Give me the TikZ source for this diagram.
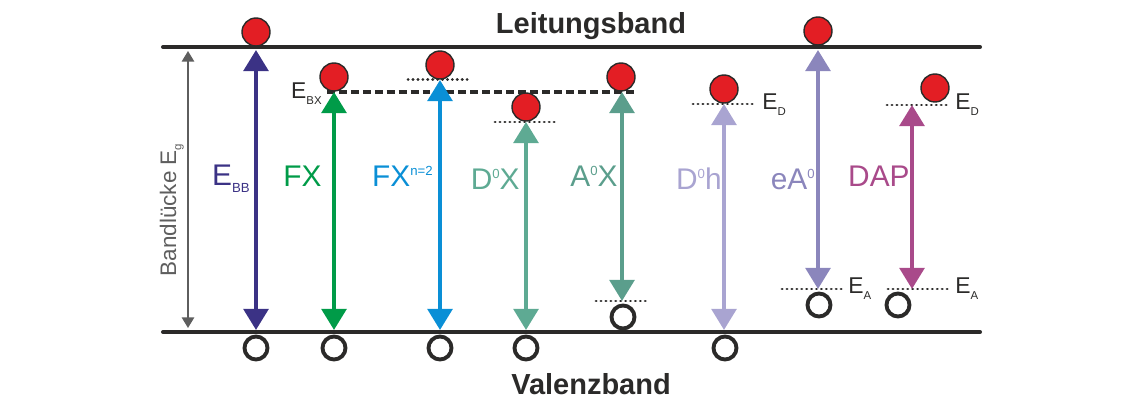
\documentclass[tikz,border=0pt]{standalone}
\usepackage{fontspec}
\setmainfont{Liberation Sans}
\usetikzlibrary{arrows.meta}
\definecolor{bandblack}{HTML}{2B2A29}
\definecolor{elecred}{HTML}{E31E24}
\definecolor{gapgray}{HTML}{5E5E5E}
\definecolor{cBB}{HTML}{3B3285}
\definecolor{cFX}{HTML}{009B48}
\definecolor{cFXn}{HTML}{0A8FD6}
\definecolor{cDX}{HTML}{5EAA93}
\definecolor{cAX}{HTML}{5B9E8C}
\definecolor{cDh}{HTML}{A9A4D1}
\definecolor{cEA}{HTML}{8B86BC}
\definecolor{cDAP}{HTML}{A94A8A}
\newcommand{\lowidx}[1]{\raisebox{-3.5pt}{\fontsize{7.5}{8}\selectfont #1}}
\newcommand{\highidx}[1]{\raisebox{6.5pt}{\fontsize{7.5}{8}\selectfont #1}}
\newcommand{\lvlidx}[1]{\raisebox{-3pt}{\fontsize{6.5}{7}\selectfont #1}}

\begin{document}
\begin{tikzpicture}[x=0.02cm,y=-0.02cm,
  band/.style={line width=2.3pt,bandblack,line cap=round},
  bandtxt/.style={anchor=base,inner sep=0pt,text=bandblack,font=\fontsize{16.5}{18}\selectfont\bfseries},
  elec/.style={circle,fill=elecred,draw=bandblack,line width=0.8pt,minimum size=0.56cm,inner sep=0pt},
  hole/.style={circle,draw=bandblack,line width=2.2pt,minimum size=0.46cm,inner sep=0pt},
  trans/.style={line width=2.3pt,{Triangle[length=12pt,width=14pt]}-{Triangle[length=12pt,width=14pt]}},
  gaparrow/.style={line width=0.9pt,gapgray,{Triangle[length=6pt,width=7pt]}-{Triangle[length=6pt,width=7pt]}},
  exciton/.style={line width=1.9pt,bandblack,dash pattern=on 4.5pt off 2.3pt},
  level/.style={line width=1.7pt,bandblack,line cap=round,dash pattern=on 0.1pt off 2.7pt},
  lbl/.style={anchor=base east,inner sep=0pt,font=\fontsize{17}{20}\selectfont},
  lvl/.style={inner sep=0pt,text=bandblack,font=\fontsize{13}{15}\selectfont}]
  \useasboundingbox (0,0) rectangle (1134,411);

  % Baender
  \coordinate (cbL) at (163,47); \coordinate (cbR) at (980,47);
  \coordinate (vbL) at (163,332); \coordinate (vbR) at (980,332);
  \draw[band] (cbL) -- (cbR);
  \draw[band] (vbL) -- (vbR);
  \node[bandtxt] (cb) at (591,34) {Leitungsband};
  \node[bandtxt] (vb) at (591,395) {Valenzband};

  % Bandluecke
  \coordinate (gapT) at (188,51); \coordinate (gapB) at (188,328);
  \draw[gaparrow] (gapT) -- (gapB);
  \node[rotate=90,anchor=base,inner sep=0pt,text=gapgray,font=\fontsize{12.8}{14}\selectfont] (eg) at (176,210) {Bandlücke E\lvlidx{g}};

  % Niveaus
  \coordinate (bxL) at (327,92); \coordinate (bxR) at (637,92);
  \draw[exciton] (bxL) -- (bxR);
  \node[lvl,anchor=base east] (ebx) at (322,99) {E\lvlidx{BX}};
  \coordinate (n2L) at (408,80); \coordinate (n2R) at (470,80);
  \draw[level] (n2L) -- (n2R);
  \coordinate (dxL) at (495,122); \coordinate (dxR) at (555,122);
  \draw[level] (dxL) -- (dxR);
  \coordinate (axL) at (596,301); \coordinate (axR) at (649,301);
  \draw[level] (axL) -- (axR);
  \coordinate (dhL) at (693,104); \coordinate (dhR) at (755,104);
  \draw[level] (dhL) -- (dhR);
  \node[lvl,anchor=base west] (ed1) at (762,110) {E\lvlidx{D}};
  \coordinate (eaL) at (782,289); \coordinate (eaR) at (842,289);
  \draw[level] (eaL) -- (eaR);
  \node[lvl,anchor=base west] (ea1) at (848,294) {E\lvlidx{A}};
  \coordinate (ddL) at (887,105); \coordinate (ddR) at (948,105);
  \draw[level] (ddL) -- (ddR);
  \node[lvl,anchor=base west] (ed2) at (955,110) {E\lvlidx{D}};
  \coordinate (daL) at (888,289); \coordinate (daR) at (948,289);
  \draw[level] (daL) -- (daR);
  \node[lvl,anchor=base west] (ea2) at (955,294) {E\lvlidx{A}};

  % Elektronen und Loecher
  \node[elec] (bbE) at (256,32) {};   \node[hole] (bbH) at (256,348) {};
  \node[elec] (fxE) at (334,77) {};   \node[hole] (fxH) at (334,348) {};
  \node[elec] (fnE) at (440,65) {};   \node[hole] (fnH) at (440,348) {};
  \node[elec] (dxE) at (526,107) {};  \node[hole] (dxH) at (526,348) {};
  \node[elec] (axE) at (621,77) {};   \node[hole] (axH) at (623,317) {};
  \node[elec] (dhE) at (724,89) {};   \node[hole] (dhH) at (725,348) {};
  \node[elec] (eaE) at (818,31) {};   \node[hole] (eaH) at (819,305) {};
  \node[elec] (dapE) at (935,88) {};  \node[hole] (dapH) at (898,305) {};

  % Uebergaenge
  \coordinate (bbT) at (256,50);  \coordinate (bbB) at (256,330);
  \coordinate (fxT) at (334,92);  \coordinate (fxB) at (334,330);
  \coordinate (fnT) at (440,80);  \coordinate (fnB) at (440,330);
  \coordinate (dxT) at (526,122); \coordinate (dxB) at (526,330);
  \coordinate (axT) at (622,92);  \coordinate (axB) at (622,301);
  \coordinate (dhT) at (724,104); \coordinate (dhB) at (724,330);
  \coordinate (eaT) at (818,50);  \coordinate (eaB) at (818,289);
  \coordinate (dapT) at (912,105); \coordinate (dapB) at (912,289);
  \draw[trans,cBB] (bbB) -- (bbT);
  \draw[trans,cFX] (fxB) -- (fxT);
  \draw[trans,cFXn] (fnB) -- (fnT);
  \draw[trans,cDX] (dxB) -- (dxT);
  \draw[trans,cAX] (axB) -- (axT);
  \draw[trans,cDh] (dhB) -- (dhT);
  \draw[trans,cEA] (eaB) -- (eaT);
  \draw[trans,cDAP] (dapB) -- (dapT);

  % Beschriftungen
  \node[lbl,text=cBB] (lbb) at (250,186) {E\lowidx{BB}};
  \node[lbl,text=cFX] (lfx) at (322,187) {FX};
  \node[lbl,text=cFXn] (lfn) at (433,187) {FX\highidx{n=2}};
  \node[lbl,text=cDX] (ldx) at (520,190) {D\highidx{0}X};
  \node[lbl,text=cAX] (lax) at (618,187) {A\highidx{0}X};
  \node[lbl,text=cDh] (ldh) at (722,190) {D\highidx{0}h};
  \node[lbl,text=cEA] (lea) at (815,190) {eA\highidx{0}};
  \node[lbl,text=cDAP] (ldap) at (910,187) {DAP};
\end{tikzpicture}
\end{document}
